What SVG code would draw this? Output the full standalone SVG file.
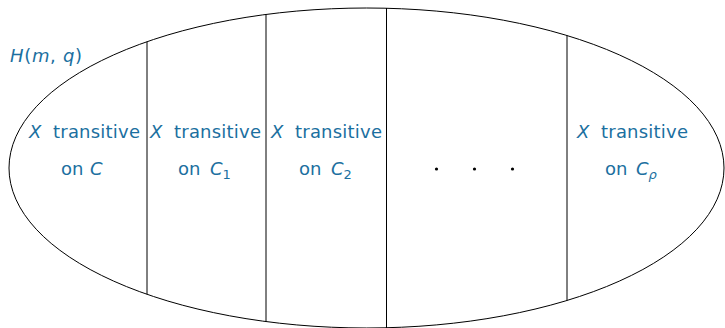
<svg xmlns="http://www.w3.org/2000/svg" width="725" height="328" viewBox="0 0 725 328">
<style>
.lbl{font-family:"DejaVu Sans","Liberation Sans",sans-serif;font-size:18px;fill:#1b6fa0}
.it{font-style:italic}
.sub{font-size:13px}
.div{stroke:#000;stroke-width:1;fill:none}
</style>
<rect width="725" height="328" fill="#fff"/>
<g id="set">
<ellipse cx="366.5" cy="168" rx="357.5" ry="160" fill="none" stroke="#000" stroke-width="1"/>
<text class="lbl" x="10" y="61.5" textLength="72"><tspan class="it">H</tspan>(<tspan class="it">m</tspan>, <tspan class="it">q</tspan>)</text>
</g>
<g id="connectors">
<line class="div" x1="147" y1="41.7" x2="147" y2="294.3"/>
<line class="div" x1="266" y1="14.4" x2="266" y2="321.6"/>
<line class="div" x1="386.5" y1="8" x2="386.5" y2="328"/>
<line class="div" x1="567" y1="35.5" x2="567" y2="300.5"/>
</g>
<g id="cell-C">
<text class="lbl it" x="29" y="138">X</text>
<text class="lbl" x="53" y="138" textLength="87">transitive</text>
<text class="lbl" x="61" y="175">on</text>
<text class="lbl it" x="90" y="175">C</text>
</g>
<g id="cell-C1">
<text class="lbl it" x="150" y="138">X</text>
<text class="lbl" x="174" y="138" textLength="87">transitive</text>
<text class="lbl" x="178" y="175">on</text>
<text class="lbl" x="210" y="175"><tspan class="it">C</tspan><tspan class="sub" dy="4">1</tspan></text>
</g>
<g id="cell-C2">
<text class="lbl it" x="271" y="138">X</text>
<text class="lbl" x="295" y="138" textLength="87">transitive</text>
<text class="lbl" x="299" y="175">on</text>
<text class="lbl" x="331" y="175"><tspan class="it">C</tspan><tspan class="sub" dy="4">2</tspan></text>
</g>
<g id="ellipsis">
<circle cx="436.5" cy="169" r="1.6" fill="#000"/>
<circle cx="474.5" cy="169" r="1.6" fill="#000"/>
<circle cx="512.5" cy="169" r="1.6" fill="#000"/>
</g>
<g id="cell-Crho">
<text class="lbl it" x="577" y="138">X</text>
<text class="lbl" x="601" y="138" textLength="87">transitive</text>
<text class="lbl" x="605" y="175">on</text>
<text class="lbl" x="636" y="175"><tspan class="it">C</tspan><tspan class="sub it" dy="4">ρ</tspan></text>
</g>
</svg>
